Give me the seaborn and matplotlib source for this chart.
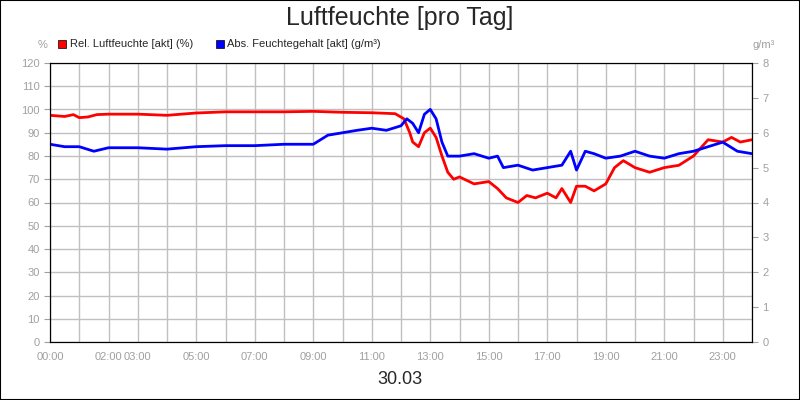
import matplotlib
matplotlib.use("Agg")
import matplotlib.pyplot as plt
import seaborn as sns
import pandas as pd
from matplotlib.patches import Rectangle

rel_hours = [0,0.5,0.8,1,1.3,1.6,2,3,4,5,6,7,8,9,10,11,11.8,12.1,12.3,12.4,12.6,12.8,13,13.2,13.4,13.6,13.8,14,14.5,15,15.3,15.6,16,16.3,16.6,17,17.3,17.5,17.8,18,18.3,18.6,19,19.3,19.6,20,20.5,21,21.5,22,22.5,23,23.3,23.6,24]
rel_values = [97.5,97,97.8,96.5,96.8,97.8,98,98,97.5,98.5,99,99,99,99.2,98.8,98.6,98.2,96,90,86,84,90,92,88,80,73,70,71,68,69,66,62,60,63,62,64,62,66,60,67,67,65,68,75,78,75,73,75,76,80,87,86,88,86,87]
abs_hours = [0,0.5,1,1.5,2,3,4,5,6,7,8,9,9.5,10,10.5,11,11.5,12,12.2,12.4,12.6,12.8,13,13.2,13.4,13.6,14,14.5,15,15.3,15.5,16,16.5,17,17.5,17.8,18,18.3,18.6,19,19.5,20,20.5,21,21.5,22,22.5,23,23.5,24]
abs_values = [5.67,5.6,5.6,5.47,5.57,5.57,5.53,5.6,5.63,5.63,5.67,5.67,5.93,6.0,6.07,6.13,6.07,6.2,6.4,6.27,6.0,6.53,6.67,6.4,5.73,5.33,5.33,5.4,5.27,5.33,5.0,5.07,4.93,5.0,5.07,5.47,4.93,5.47,5.4,5.27,5.33,5.47,5.33,5.27,5.4,5.47,5.6,5.73,5.47,5.4]
tick_hours = [0,2,3,5,7,9,11,13,15,17,19,21,23]
tick_labels = ["00:00","02:00","03:00","05:00","07:00","09:00","11:00","13:00","15:00","17:00","19:00","21:00","23:00"]

sns.set_style("white")
plt.rcParams['font.family'] = ['Liberation Sans', 'DejaVu Sans']
fig = plt.figure(figsize=(8,4), dpi=100, facecolor='white')
fig.patches.append(Rectangle((0,0),1,1,transform=fig.transFigure,fill=False,edgecolor='black',lw=1.5))
ax = fig.add_axes([0.0625,0.145,0.8775,0.6975])
ax2 = ax.twinx()
rel = pd.DataFrame({"h":rel_hours,"v":rel_values})
ab = pd.DataFrame({"h":abs_hours,"v":abs_values})
sns.lineplot(data=rel,x="h",y="v",ax=ax,color="#ff0000",lw=2)
sns.lineplot(data=ab,x="h",y="v",ax=ax2,color="#0000ff",lw=2)
ax.set_xlim(0,24); ax.set_ylim(0,120); ax2.set_ylim(0,8)
ax.set_yticks(range(0,121,10)); ax2.set_yticks(range(0,9))
ax.set_xticks(range(0,25), minor=True)
ax.set_xticks(tick_hours); ax.set_xticklabels(tick_labels)
ax.grid(True, which='both', color='#c0c0c0', lw=1)
ax.set_axisbelow(True)
for a in (ax, ax2):
    a.set_xlabel(""); a.set_ylabel("")
    a.tick_params(colors='#a0a0a0', labelsize=8, length=4, direction='out')
    for s in a.spines.values(): s.set_color('black')
ax.tick_params(which='minor', colors='#a0a0a0', length=4)
fig.text(0.5,0.955,"Luftfeuchte [pro Tag]",ha='center',va='center',fontsize=18)
fig.text(0.5,0.05,"30.03",ha='center',va='center',fontsize=13)
fig.text(0.053,0.88,"%",ha='center',fontsize=8,color='#a0a0a0')
fig.text(0.955,0.88,"g/m³",ha='center',fontsize=8,color='#a0a0a0')
fig.patches.append(Rectangle((0.073,0.88),0.01,0.02,transform=fig.transFigure,facecolor='#ff0000',edgecolor='black',lw=0.5))
fig.text(0.087,0.89,"Rel. Luftfeuchte [akt] (%)",va='center',fontsize=8)
fig.patches.append(Rectangle((0.27,0.88),0.01,0.02,transform=fig.transFigure,facecolor='#0000ff',edgecolor='black',lw=0.5))
fig.text(0.284,0.89,"Abs. Feuchtegehalt [akt] (g/m³)",va='center',fontsize=8)
fig.savefig("out.png", dpi=100, facecolor='white')
